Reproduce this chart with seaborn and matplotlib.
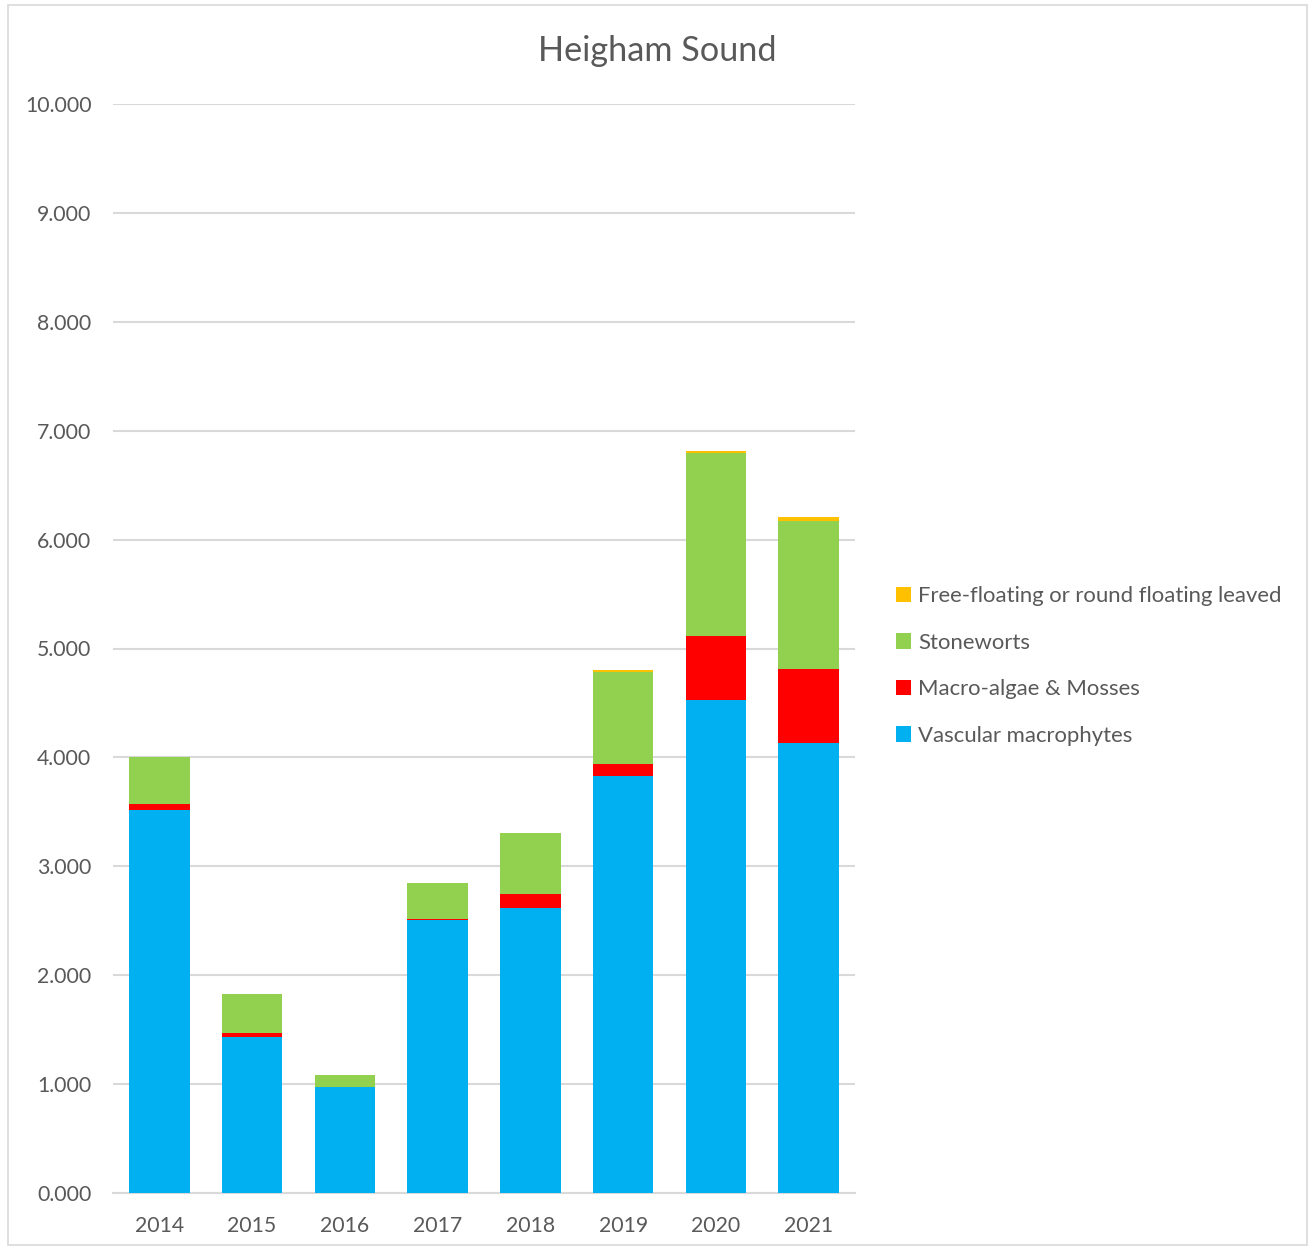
import matplotlib
matplotlib.use("Agg")
import matplotlib.pyplot as plt
from matplotlib.patches import Rectangle, Patch
import numpy as np
import pandas as pd
import seaborn as sns

years = ["2014", "2015", "2016", "2017", "2018", "2019", "2020", "2021"]
vascular = [3.52, 1.435, 0.976, 2.51, 2.62, 3.83, 4.53, 4.13]
macro_algae = [0.05, 0.035, 0.0, 0.01, 0.13, 0.105, 0.585, 0.68]
stoneworts = [0.43, 0.355, 0.105, 0.33, 0.555, 0.845, 1.68, 1.365]
free_floating = [0.0, 0.0, 0.0, 0.0, 0.005, 0.02, 0.015, 0.035]

series_names = ["Vascular macrophytes", "Macro-algae & Mosses", "Stoneworts",
                "Free-floating or round floating leaved"]
series_colors = ["#00B0F0", "#FF0000", "#92D050", "#FFC000"]

sns.set_theme(style="white")
plt.rcParams["font.family"] = ["Lato", "DejaVu Sans"]
text_color = "#595959"

df = pd.DataFrame({"year": years, "v": vascular, "m": macro_algae,
                   "s": stoneworts, "f": free_floating})
layers = [df["v"], df["m"], df["s"], df["f"]]
cum = np.cumsum(np.vstack(layers), axis=0)

fig = plt.figure(figsize=(13.13, 12.49), dpi=100)
ax = fig.add_axes([113 / 1313, 1 - 1193 / 1249, (855 - 113) / 1313, (1193 - 104) / 1249])

# stacked bars: draw cumulative totals from the top layer down
for i in range(3, -1, -1):
    sns.barplot(x=df["year"], y=cum[i], color=series_colors[i], width=0.65,
                saturation=1, ax=ax, zorder=3, edgecolor="none")

ax.set_ylim(0, 10)
ax.set_xlim(-0.5, 7.5)
ax.set_yticks(np.arange(0, 11, 1))
ax.set_yticklabels([f"{v:.3f}" for v in range(11)])
ax.yaxis.grid(True, color="#D9D9D9", linewidth=1.5, zorder=0)
ax.set_axisbelow(True)
for sp in ["top", "right", "left"]:
    ax.spines[sp].set_visible(False)
ax.spines["bottom"].set_color("#D9D9D9")
ax.spines["bottom"].set_linewidth(1.5)
ax.tick_params(axis="both", length=0, labelsize=15.3, colors=text_color)
ax.tick_params(axis="x", pad=16.5)
ax.tick_params(axis="y", pad=15.5)
ax.set_xlabel("")
ax.set_ylabel("")

fig.text(657 / 1313, 1 - 51 / 1249, "Heigham Sound", ha="center", va="center",
         fontsize=24.7, color=text_color)

handles = [Patch(facecolor=series_colors[i], edgecolor="none") for i in range(3, -1, -1)]
labels = [series_names[i] for i in range(3, -1, -1)]
fig.legend(handles, labels, loc="center left", bbox_to_anchor=(876 / 1313, 1 - 666 / 1249),
           frameon=False, fontsize=15.9, labelcolor=text_color, handlelength=0.7,
           handleheight=0.7, handletextpad=0.3, labelspacing=1.2)

fig.patches.append(Rectangle((8 / 1313, 4 / 1249), 1299 / 1313, 1240 / 1249,
                             transform=fig.transFigure, fill=False,
                             edgecolor="#D9D9D9", linewidth=1.2))

fig.savefig("out.png", dpi=100)
